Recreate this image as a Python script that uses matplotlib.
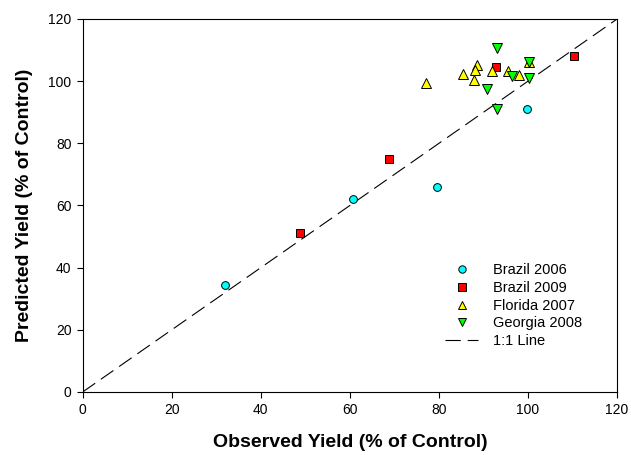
import matplotlib
matplotlib.use("Agg")
import matplotlib.pyplot as plt

plt.rcParams['font.family'] = ['Liberation Sans', 'DejaVu Sans']
plt.rcParams['lines.scale_dashes'] = False

brazil2006_x = [32.0, 60.8, 79.5, 99.8]
brazil2006_y = [34.4, 62.1, 66.1, 91.1]
brazil2009_x = [48.7, 68.8, 92.7, 110.3]
brazil2009_y = [51.1, 75.0, 104.7, 108.1]
florida2007_x = [77.1, 85.5, 88.6, 88.2, 87.9, 91.9, 95.5, 97.9, 100.2]
florida2007_y = [99.3, 102.2, 105.2, 103.6, 100.3, 103.4, 103.4, 102.0, 106.3]
georgia2008_x = [93.0, 90.8, 96.5, 100.2, 100.2, 93.1]
georgia2008_y = [110.8, 97.5, 101.8, 101.1, 106.3, 91.1]
line_x = [0, 120]
line_y = [0, 120]

fig = plt.figure(figsize=(6.31, 4.55), dpi=100)
ax = fig.add_axes([0.131, 0.1385, 0.847, 0.8198])

ax.plot(line_x, line_y, color='black', lw=0.8, dashes=(11, 5), label='1:1 Line', zorder=1)
ax.plot(brazil2006_x, brazil2006_y, 'o', color='#00FFFF', mec='black', mew=0.7, ms=5.6, label='Brazil 2006', zorder=3)
ax.plot(brazil2009_x, brazil2009_y, 's', color='#FF0000', mec='black', mew=0.7, ms=5.6, label='Brazil 2009', zorder=3)
ax.plot(florida2007_x, florida2007_y, '^', color='#FFFF00', mec='black', mew=0.7, ms=6.5, label='Florida 2007', zorder=3)
ax.plot(georgia2008_x, georgia2008_y, 'v', color='#00FF00', mec='black', mew=0.7, ms=6.5, label='Georgia 2008', zorder=4)

ax.set_xlim(0, 120)
ax.set_ylim(0, 120)
ax.set_xticks(range(0, 121, 20))
ax.set_yticks(range(0, 121, 20))
ax.tick_params(axis='both', direction='out', length=4, width=0.8, labelsize=10, pad=4)
ax.tick_params(top=False, right=False)
for s in ax.spines.values():
    s.set_linewidth(0.8)

ax.set_xlabel('Observed Yield (% of Control)', fontsize=14, fontweight='bold', labelpad=12)
ax.set_ylabel('Predicted Yield (% of Control)', fontsize=14, fontweight='bold', labelpad=11)

handles, labels = ax.get_legend_handles_labels()
order = [1, 2, 3, 4, 0]
ax.legend([handles[i] for i in order], [labels[i] for i in order], loc='upper left',
          bbox_to_anchor=(0.653, 0.38), frameon=False, fontsize=10.5, handlelength=2.3,
          handletextpad=1.0, labelspacing=0.25, markerscale=0.95)

fig.savefig('out.png', dpi=100)
